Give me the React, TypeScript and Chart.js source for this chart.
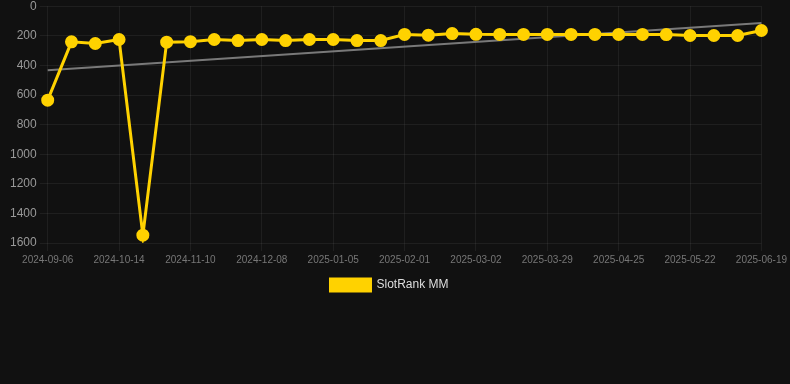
import React, { useEffect, useRef } from "react";
import { Chart, registerables } from "chart.js";

Chart.register(...registerables);

const dates = [
  "2024-09-06", "2024-09-19", "2024-10-01", "2024-10-14", "2024-10-23", "2024-11-01",
  "2024-11-10", "2024-11-19", "2024-11-28", "2024-12-08", "2024-12-17", "2024-12-26",
  "2025-01-05", "2025-01-14", "2025-01-23", "2025-02-01", "2025-02-11", "2025-02-20",
  "2025-03-02", "2025-03-11", "2025-03-20", "2025-03-29", "2025-04-07", "2025-04-16",
  "2025-04-25", "2025-05-04", "2025-05-13", "2025-05-22", "2025-05-31", "2025-06-09",
  "2025-06-19",
];

const rankValues = [
  635, 241, 252, 225, 1547, 243, 240, 225, 232, 225, 232, 225,
  225, 232, 232, 191, 196, 185, 190, 191, 191, 191, 191, 191,
  191, 191, 192, 198, 198, 198, 164,
];

const trendStart = 432;
const trendEnd = 113;
const trendValues = dates.map((_, i) =>
  i === 0 ? trendStart : i === dates.length - 1 ? trendEnd : null
);

const yTicks = [0, 200, 400, 600, 800, 1000, 1200, 1400, 1600];

const legendShift = {
  id: "legendShift",
  afterLayout(chart: any) {
    const lg = chart.legend;
    if (lg) {
      lg.left += 5;
      lg.right += 5;
    }
  },
};

export default function App() {
  const ref = useRef<HTMLCanvasElement | null>(null);
  useEffect(() => {
    document.body.style.margin = "0";
    document.body.style.background = "#111111";
    const ctx = ref.current!;
    const chart = new Chart(ctx, {
      type: "line",
      data: {
        labels: dates,
        datasets: [
          {
            label: "SlotRank MM",
            data: rankValues,
            borderColor: "#FFD200",
            backgroundColor: "#FFD200",
            borderWidth: 3,
            pointRadius: 5,
            pointHoverRadius: 5,
            pointBackgroundColor: "#FFD200",
            pointBorderColor: "#FFD200",
            tension: 0,
            order: 1,
          },
          {
            label: "Trend",
            data: trendValues,
            borderColor: "rgba(140,140,140,0.85)",
            backgroundColor: "rgba(140,140,140,0.85)",
            borderWidth: 2,
            pointRadius: 0,
            spanGaps: true,
            tension: 0,
            order: 2,
          },
        ],
      },
      plugins: [legendShift],
      options: {
        animation: false,
        responsive: false,
        maintainAspectRatio: false,
        layout: { padding: { left: 7, right: 28, top: 0, bottom: 0 } },
        font: { family: "Arial, 'Liberation Sans', sans-serif" },
        plugins: {
          legend: {
            position: "bottom",
            labels: {
              boxWidth: 40,
              boxHeight: 12,
              color: "#dddddd",
              font: { size: 12, family: "Arial, 'Liberation Sans', sans-serif" },
              filter: (item) => item.text === "SlotRank MM",
            },
          },
          tooltip: { enabled: false },
        },
        scales: {
          x: {
            grid: { color: "rgba(255,255,255,0.06)", drawTicks: true },
            border: { display: false },
            ticks: {
              color: "#777777",
              font: { size: 10, family: "Arial, 'Liberation Sans', sans-serif" },
              maxRotation: 0,
              autoSkip: true,
              maxTicksLimit: 11,
            },
          },
          y: {
            reverse: true,
            min: 0,
            max: 1600,
            afterBuildTicks: (axis) => {
              axis.ticks = yTicks.map((v) => ({ value: v }));
            },
            grid: { color: "rgba(255,255,255,0.06)" },
            border: { display: false },
            ticks: {
              color: "#999999",
              font: { size: 12, family: "Arial, 'Liberation Sans', sans-serif" },
              callback: (v) => String(v),
            },
          },
        },
      },
    });
    return () => chart.destroy();
  }, []);
  return (
    <div style={{ position: "absolute", left: 0, top: 0, width: 790, height: 384, background: "#111111", overflow: "hidden" }}>
      <canvas ref={ref} width={790} height={305} style={{ display: "block", position: "absolute", left: 0, top: -4 }} />
    </div>
  );
}
